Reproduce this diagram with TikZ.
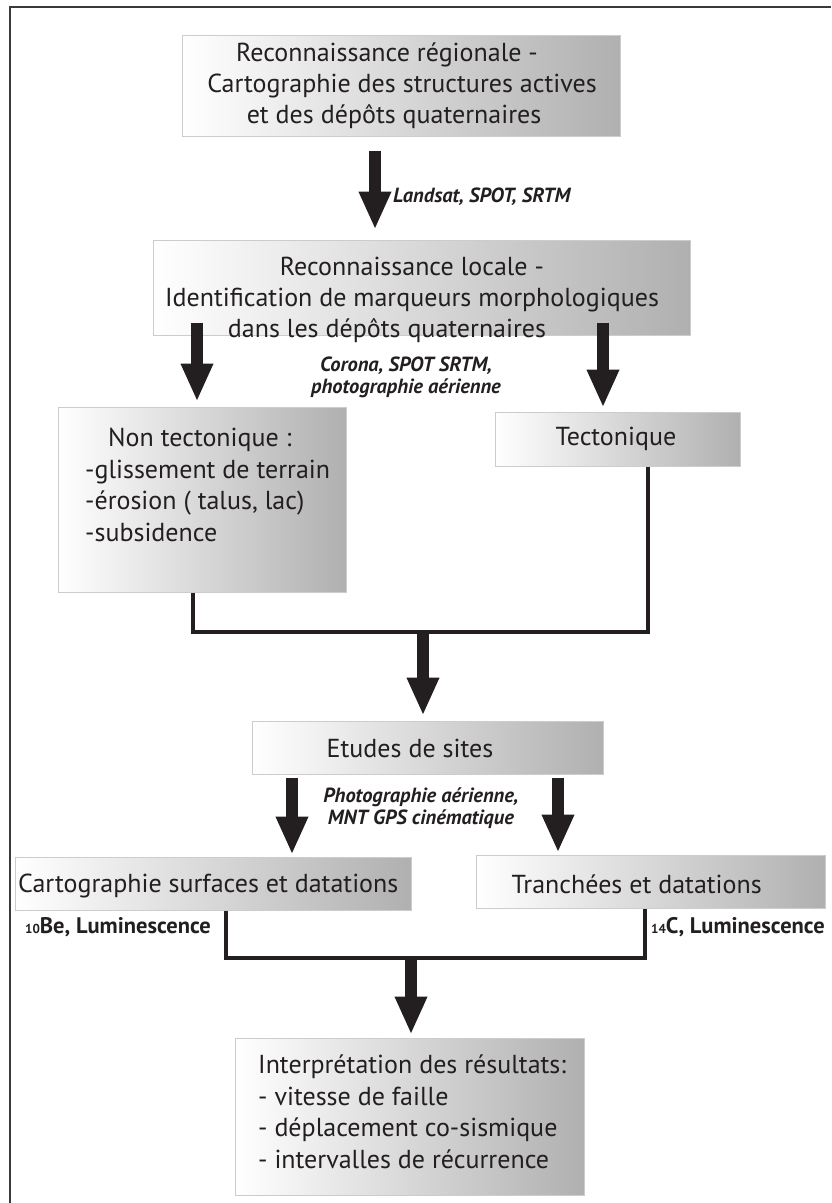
\documentclass[tikz,border=0pt]{standalone}
\usepackage{fontspec}
\setmainfont{PT Sans}
\usetikzlibrary{arrows.meta}
\definecolor{ink}{HTML}{231F20}
\definecolor{boxline}{HTML}{CCCCCC}
\definecolor{boxdark}{HTML}{B0B0B0}
\definecolor{framecol}{HTML}{3A3A3A}
\begin{document}
\begin{tikzpicture}[x=1pt,y=-1pt,
  box/.style={rectangle, draw=boxline, line width=1pt, left color=white, right color=boxdark, inner sep=0pt},
  btxt/.style={text=ink, font=\fontsize{26}{31}\selectfont, inner sep=0pt, align=center},
  ltxt/.style={text=ink, font=\fontsize{26}{31.5}\selectfont, inner sep=0pt, align=left},
  note/.style={text=ink, font=\fontsize{20.5}{22}\selectfont\bfseries\itshape, inner sep=0pt, align=center},
  iso/.style={text=ink, font=\fontsize{22.5}{24}\selectfont\bfseries, inner sep=0pt},
  bigarrow/.style={draw=ink, line width=12pt, -{Triangle[length=38pt,width=30pt]}},
  joinline/.style={draw=ink, line width=4pt},
]
\useasboundingbox (0,0) rectangle (831,1203);
\draw[framecol, line width=2pt] (10,1203) -- (10,7) -- (831,7);

% boxes
\node[box, minimum width=438pt, minimum height=101pt] (b1) at (401,85.5) {};
\node[box, minimum width=537pt, minimum height=95pt] (b2) at (421.5,287.5) {};
\node[box, minimum width=288pt, minimum height=185pt] (nt) at (202,499.5) {};
\node[box, minimum width=245pt, minimum height=54pt] (tc) at (617.5,439) {};
\node[box, minimum width=351pt, minimum height=53pt] (es) at (427.5,747.5) {};
\node[box, minimum width=396pt, minimum height=53pt] (cs) at (213,883.5) {};
\node[box, minimum width=349pt, minimum height=53pt] (tr) at (650.5,881.5) {};
\node[box, minimum width=349pt, minimum height=157pt] (ir) at (409.5,1116.5) {};

% texts
\node[btxt] (t1) at (402,86) {Reconnaissance régionale -\hspace*{30pt}\\Cartographie des structures actives\\et des dépôts quaternaires\hspace*{16pt}};
\node[btxt] (t2) at (412,300) {Reconnaissance locale -\\Identification de marqueurs morphologiques\\dans les dépôts quaternaires\hspace*{50pt}};
\node[ltxt, anchor=north west] (t3) at (85,428) {\hspace*{23pt}Non tectonique :\\-glissement de terrain\\-érosion ( talus, lac)\\-subsidence};
\node[btxt] (t4) at (616,439) {Tectonique};
\node[btxt] (t5) at (410,748) {Etudes de sites};
\node[btxt, anchor=west] (t6) at (18,886) {Cartographie surfaces et datations};
\node[btxt, anchor=east] (t7) at (762,884) {Tranchées et datations};
\node[ltxt, anchor=north west] (t8) at (258,1055) {Interprétation des résultats:\\- vitesse de faille\\- déplacement co-sismique\\- intervalles de récurrence};

% notes
\node[note, anchor=west] (n1) at (393,197) {Landsat, SPOT, SRTM};
\node[note] (n2) at (406,377) {Corona, SPOT SRTM,\\photographie aérienne};
\node[note] (n3) at (421,808) {Photographie aérienne,\\MNT GPS cinématique};
\node[iso, anchor=west] (n4) at (25,927) {{\fontsize{13}{13}\selectfont 10}Be, Luminescence};
\node[iso, anchor=west] (n5) at (651,927) {{\fontsize{13}{13}\selectfont 14}C, Luminescence};

% merge points
\coordinate (m1) at (423,632);
\coordinate (m2) at (411,958);

% connectors
\draw[bigarrow] ([xshift=-26pt,yshift=-14pt]b1.south) -- ([xshift=-46.5pt,yshift=10pt]b2.north);
\draw[bigarrow] ([xshift=-224.5pt,yshift=13pt]b2.south) -- ([xshift=-5pt,yshift=5pt]nt.north);
\draw[bigarrow] ([xshift=181.5pt,yshift=13pt]b2.south) -- ([xshift=-14.5pt,yshift=4pt]tc.north);
\draw[joinline] ([xshift=-9pt]nt.south) |- (m1) -| ([xshift=30.5pt]tc.south);
\draw[bigarrow] ([yshift=2pt]m1) -- ([xshift=-4.5pt,yshift=5pt]es.north);
\draw[bigarrow] ([xshift=-135.5pt,yshift=-3pt]es.south) -- ([xshift=79pt,yshift=2pt]cs.north);
\draw[bigarrow] ([xshift=130.5pt,yshift=-3pt]es.south) -- ([xshift=-92.5pt,yshift=2pt]tr.north);
\draw[joinline] ([xshift=13pt]cs.south) |- (m2) -| ([xshift=-5.5pt]tr.south);
\draw[bigarrow] ([yshift=2pt]m2) -- ([xshift=1.5pt,yshift=3pt]ir.north);
\end{tikzpicture}
\end{document}
